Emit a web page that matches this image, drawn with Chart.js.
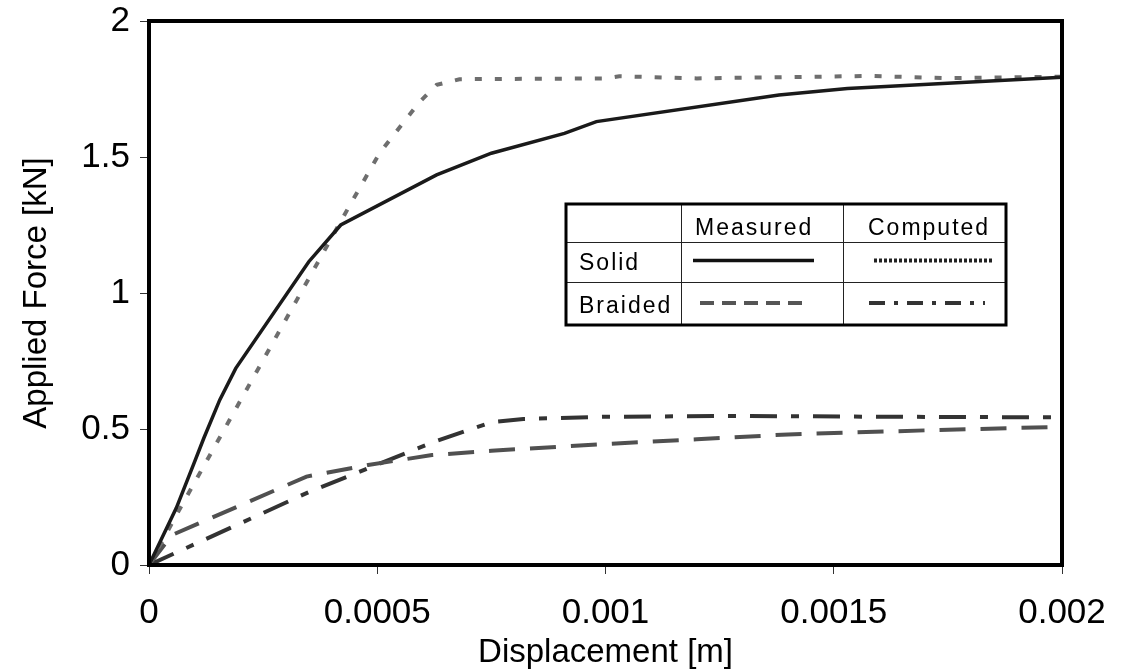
<!DOCTYPE html>
<html>
<head>
<meta charset="utf-8">
<script src="https://cdn.jsdelivr.net/npm/chart.js@4"></script>
<style>
  html, body { margin: 0; padding: 0; background: #fff; }
  #wrap { width: 1124px; height: 672px; }
</style>
</head>
<body>
<div id="wrap"><canvas id="forceChart" width="1124" height="672"></canvas></div>
<script>
// Data //
var solidMeasuredX = [0, 0.00006, 0.0001, 0.00012, 0.000155, 0.00019, 0.00035, 0.00042, 0.00063, 0.00075, 0.00091, 0.00098, 0.00138, 0.00153, 0.002];
var solidMeasuredY = [0, 0.21, 0.38, 0.466, 0.607, 0.723, 1.115, 1.25, 1.434, 1.514, 1.587, 1.63, 1.728, 1.752, 1.793];

var solidComputedX = [0, 0.00007, 0.000436, 0.000505, 0.000593, 0.00063, 0.00068, 0.001, 0.00103, 0.0012, 0.00158, 0.00175, 0.002];
var solidComputedY = [0, 0.214, 1.311, 1.514, 1.703, 1.765, 1.786, 1.789, 1.797, 1.789, 1.798, 1.79, 1.795];

var braidedMeasuredX = [0, 0.00005, 0.000345, 0.00048, 0.00062, 0.00075, 0.001, 0.0012, 0.0014, 0.0017, 0.002];
var braidedMeasuredY = [0, 0.11, 0.325, 0.368, 0.404, 0.42, 0.445, 0.462, 0.48, 0.495, 0.508];

var braidedComputedX = [0, 0.00035, 0.00062, 0.00075, 0.00082, 0.001, 0.0013, 0.0016, 0.002];
var braidedComputedY = [0, 0.268, 0.45, 0.525, 0.537, 0.545, 0.548, 0.545, 0.543];

var xTickLabels = ['0', '0.0005', '0.001', '0.0015', '0.002'];
var yTickLabels = ['0', '0.5', '1', '1.5', '2'];

var legendCols = ['Measured', 'Computed'];
var legendRows = ['Solid', 'Braided'];

var FONT = "'Liberation Sans', Arial, sans-serif";

function pts(xs, ys) {
    return xs.map(function (x, i) { return { x: x, y: ys[i] }; });
}

var styles = {
    solidMeasured:   { color: '#1a1a1a', width: 3.5, dash: [] },
    solidComputed:   { color: '#6e6e6e', width: 4, dash: [7, 13] },
    braidedMeasured: { color: '#505050', width: 4, dash: [26, 15] },
    braidedComputed: { color: '#333333', width: 4, dash: [27, 14, 8, 14] }
};

function ds(label, xs, ys, st) {
    return {
        label: label,
        data: pts(xs, ys),
        borderColor: st.color,
        borderWidth: st.width,
        borderDash: st.dash,
        borderCapStyle: 'butt',
        pointRadius: 0,
        tension: 0,
        showLine: true,
        fill: false
    };
}

// Plot frame, axis titles, table legend //
var extras = {
    id: 'extras',
    afterDraw: function (chart) {
        var c = chart.ctx, a = chart.chartArea;
        c.save();

        // box
        c.strokeStyle = '#000';
        c.lineWidth = 4;
        c.setLineDash([]);
        c.strokeRect(a.left, a.top, a.right - a.left, a.bottom - a.top);

        // axis titles
        c.fillStyle = '#000';
        c.font = '33px ' + FONT;
        c.textAlign = 'center';
        c.textBaseline = 'alphabetic';
        c.fillText('Displacement [m]', (a.left + a.right) / 2, 662);
        c.save();
        c.translate(46, (a.top + a.bottom) / 2);
        c.rotate(-Math.PI / 2);
        c.fillText('Applied Force [kN]', 0, 0);
        c.restore();

        // legend table
        var L = 566, T = 204, R = 1006, B = 325;
        var c1 = 681, c2 = 843, r1 = 242, r2 = 282;
        c.fillStyle = '#fff';
        c.fillRect(L, T, R - L, B - T);
        c.strokeStyle = '#222';
        c.lineWidth = 1;
        c.beginPath();
        c.moveTo(c1 + 0.5, T); c.lineTo(c1 + 0.5, B);
        c.moveTo(c2 + 0.5, T); c.lineTo(c2 + 0.5, B);
        c.moveTo(L, r1 + 0.5); c.lineTo(R, r1 + 0.5);
        c.moveTo(L, r2 + 0.5); c.lineTo(R, r2 + 0.5);
        c.stroke();
        c.strokeStyle = '#000';
        c.lineWidth = 3;
        c.strokeRect(L, T, R - L, B - T);

        c.fillStyle = '#000';
        c.font = '23px ' + FONT;
        c.textAlign = 'left';
        c.letterSpacing = '2px';
        c.fillText(legendCols[0], 695, 235);
        c.fillText(legendCols[1], 868, 235);
        c.fillText(legendRows[0], 579, 270);
        c.fillText(legendRows[1], 579, 313);
        c.letterSpacing = '0px';

        function sample(x1, x2, y, color, w, dash) {
            c.strokeStyle = color;
            c.lineWidth = w;
            c.setLineDash(dash);
            c.lineCap = 'butt';
            c.beginPath();
            c.moveTo(x1, y); c.lineTo(x2, y);
            c.stroke();
        }
        sample(693, 814, 260.5, '#111', 3.5, []);
        sample(874, 992, 260.5, '#222', 4, [3, 2]);
        sample(700, 810, 303, '#555', 4, [14, 8]);
        sample(869, 985, 303, '#333', 4, [16, 9, 4, 9]);

        c.restore();
    }
};

var ctx = document.getElementById('forceChart').getContext('2d');
var forceChart = new Chart(ctx, {
    type: 'scatter',
    data: {
        datasets: [
            ds('Solid measured', solidMeasuredX, solidMeasuredY, styles.solidMeasured),
            ds('Solid computed', solidComputedX, solidComputedY, styles.solidComputed),
            ds('Braided measured', braidedMeasuredX, braidedMeasuredY, styles.braidedMeasured),
            ds('Braided computed', braidedComputedX, braidedComputedY, styles.braidedComputed)
        ]
    },
    options: {
        responsive: false,
        animation: false,
        layout: {
            padding: { left: 0, right: 62, top: 21, bottom: 0 }
        },
        scales: {
            x: {
                type: 'linear',
                min: 0,
                max: 0.002,
                afterFit: function (s) {
                    s.height = 107;
                    s.paddingLeft = 0;
                    s.paddingRight = 0;
                },
                afterBuildTicks: function (s) {
                    s.ticks = xTickLabels.map(function (t) { return { value: parseFloat(t) }; });
                },
                border: { display: true, color: '#000', width: 4 },
                grid: {
                    drawOnChartArea: false,
                    drawTicks: true,
                    tickLength: 9,
                    color: '#333',
                    lineWidth: 1
                },
                ticks: {
                    color: '#000',
                    padding: 18,
                    maxRotation: 0,
                    autoSkip: false,
                    font: { family: FONT, size: 35 },
                    callback: function (v, i) { return xTickLabels[i]; }
                }
            },
            y: {
                min: 0,
                max: 2,
                afterFit: function (s) {
                    s.width = 149;
                    s.paddingTop = 0;
                    s.paddingBottom = 0;
                },
                afterBuildTicks: function (s) {
                    s.ticks = yTickLabels.map(function (t) { return { value: parseFloat(t) }; });
                },
                border: { display: true, color: '#000', width: 4 },
                grid: {
                    drawOnChartArea: false,
                    drawTicks: true,
                    tickLength: 9,
                    color: '#333',
                    lineWidth: 1
                },
                ticks: {
                    color: '#000',
                    padding: 10,
                    autoSkip: false,
                    font: { family: FONT, size: 35 },
                    callback: function (v, i) { return yTickLabels[i]; }
                }
            }
        },
        plugins: {
            legend: { display: false },
            tooltip: { enabled: false }
        }
    },
    plugins: [extras]
});
</script>
</body>
</html>
